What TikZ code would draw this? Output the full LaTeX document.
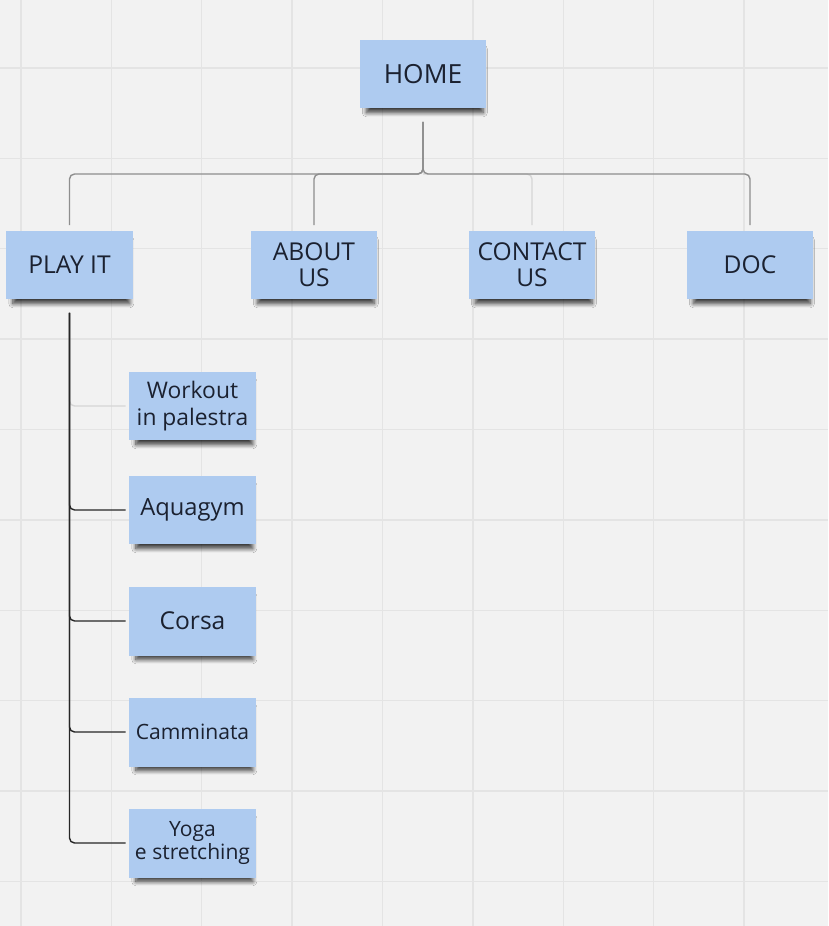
\documentclass[tikz,border=0pt]{standalone}
\usepackage{fontspec}
\setmainfont{Open Sans}
\usepackage{xcolor}
\usetikzlibrary{shadows.blur}
\definecolor{mybg}{HTML}{F2F2F2}
\definecolor{mygrid}{HTML}{E4E4E4}
\definecolor{mynote}{HTML}{AECBF0}
\definecolor{mytext}{HTML}{1B2130}
\definecolor{mygray}{HTML}{8E8E8E}
\definecolor{mylight}{HTML}{D6D6D6}
\definecolor{mydark}{HTML}{262626}

\begin{document}
\begin{tikzpicture}[x=0.02cm, y=-0.02cm,
  note/.style={fill=mynote, text=mytext, minimum width=2.54cm, minimum height=1.38cm,
    align=center, inner sep=1pt,
    blur shadow={shadow xshift=0.04cm, shadow yshift=-0.15cm, shadow scale=0.92,
      shadow opacity=75, shadow blur steps=8, shadow blur radius=0.09cm}},
  conn/.style={draw=mygray, line width=0.8pt, rounded corners=0.1cm},
  sub/.style={draw=mydark, line width=0.8pt, rounded corners=0.1cm}]
\fill[mybg] (0,0) rectangle (828,926);
\useasboundingbox (0,0) rectangle (828,926);
% grid
\foreach \k in {0,...,8} {
  \draw[mygrid, line width=0.6pt] (21+90.4*\k,0) -- (21+90.4*\k,926);
}
\foreach \k in {0,...,9} {
  \draw[mygrid, line width=0.6pt] (0,68+90.4*\k) -- (828,68+90.4*\k);
}
\draw[mygrid, line width=1.2pt] (292.2,0) -- (292.2,926);
\draw[mygrid, line width=1.2pt] (744.2,0) -- (744.2,926);
\draw[mygrid, line width=1.2pt] (0,339.2) -- (828,339.2);
\draw[mygrid, line width=1.2pt] (0,791.2) -- (828,791.2);

% notes
\node[note, font=\fontsize{15}{17}\selectfont] (home) at (423,74) {HOME};
\node[note, font=\fontsize{14}{16}\selectfont] (playit) at (69.5,265) {PLAY IT};
\node[note, font=\fontsize{14}{15}\selectfont] (about) at (314,265) {ABOUT\\US};
\node[note, font=\fontsize{14}{15}\selectfont] (contact) at (532,265) {CONTACT\\US};
\node[note, font=\fontsize{14}{16}\selectfont] (doc) at (750,265) {DOC};

\node[note, font=\fontsize{13}{15}\selectfont] (workout) at (192.5,406) {Workout\\in palestra};
\node[note, font=\fontsize{13.5}{15}\selectfont] (aquagym) at (192.5,510) {Aquagym};
\node[note, font=\fontsize{14}{16}\selectfont] (corsa) at (192.5,621) {Corsa};
\node[note, font=\fontsize{12}{13}\selectfont] (camminata) at (192.5,732) {Camminata};
\node[note, font=\fontsize{12}{13}\selectfont] (yoga) at (192.5,843) {Yoga\\e stretching};

% tree lines
\coordinate (split) at (423,174);
\draw[conn, shorten <=0.26cm, shorten >=0.1cm] (home.south) -- (split) -| (playit.north);
\draw[conn, shorten <=0.26cm, shorten >=0.1cm] (home.south) -- (split) -| (about.north);
\draw[conn, draw=mylight, shorten >=0.1cm] (split) -| (contact.north);
\draw[conn, shorten <=0.26cm, shorten >=0.1cm] (home.south) -- (split) -| (doc.north);

\draw[sub, draw=mylight, shorten <=0.26cm, shorten >=0.06cm] (playit.south) |- (workout.west);
\draw[sub, shorten <=0.26cm, shorten >=0.06cm] (playit.south) |- (aquagym.west);
\draw[sub, shorten <=0.26cm, shorten >=0.06cm] (playit.south) |- (corsa.west);
\draw[sub, shorten <=0.26cm, shorten >=0.06cm] (playit.south) |- (camminata.west);
\draw[sub, shorten <=0.26cm, shorten >=0.06cm] (playit.south) |- (yoga.west);
\end{tikzpicture}
\end{document}
